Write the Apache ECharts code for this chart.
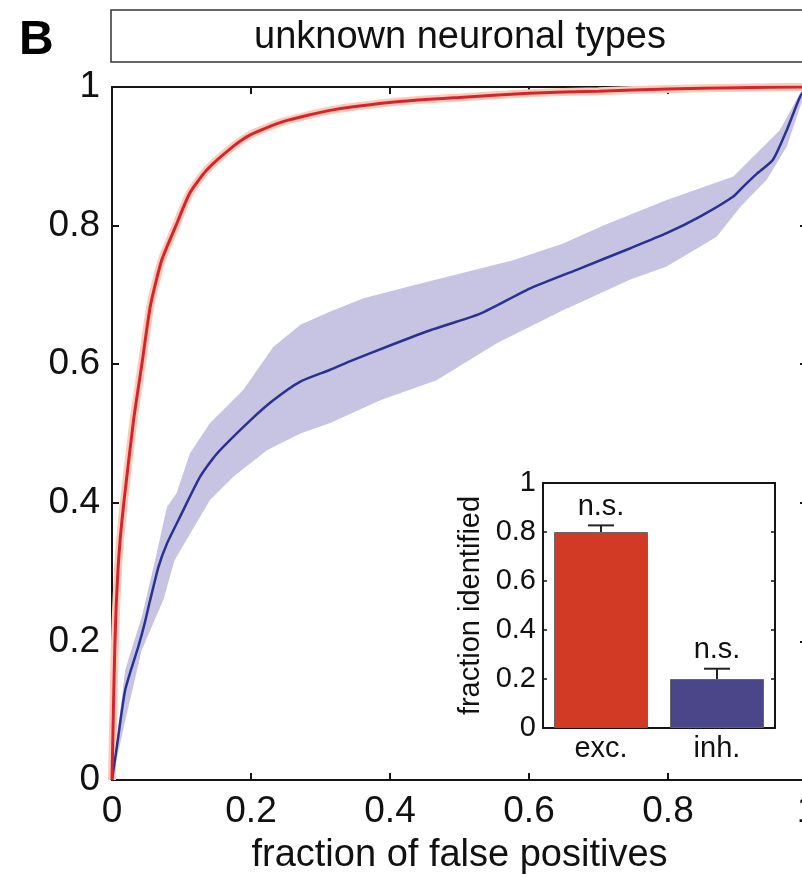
<!DOCTYPE html>
<html>
<head>
<meta charset="utf-8">
<script src="https://cdn.jsdelivr.net/npm/echarts@6/dist/echarts.min.js"></script>
<style>
  html, body { margin: 0; padding: 0; background: #fff; }
  #chart { width: 802px; height: 877px; }
</style>
</head>
<body>
<div id="chart"></div>
<script>
// ROC curves, [fraction of false positives, fraction identified]
const excCurve = [
  [0, 0], [0.002, 0.1], [0.004, 0.19], [0.006, 0.25], [0.009, 0.31], [0.012, 0.35],
  [0.017, 0.4], [0.031, 0.519], [0.043, 0.6], [0.055, 0.683], [0.0715, 0.75], [0.092, 0.8],
  [0.112, 0.847], [0.136, 0.88], [0.174, 0.914], [0.199, 0.931], [0.246, 0.95],
  [0.318, 0.967], [0.414, 0.979], [0.5, 0.985], [0.6, 0.991], [0.7, 0.994],
  [0.8, 0.997], [0.9, 0.999], [1, 1]
]
const inhCurve = [
  [0, 0], [0.007, 0.048], [0.019, 0.13], [0.038, 0.193], [0.047, 0.226], [0.055, 0.26],
  [0.067, 0.308], [0.079, 0.341], [0.098, 0.38], [0.127, 0.438], [0.151, 0.471],
  [0.199, 0.519], [0.232, 0.548], [0.271, 0.575], [0.314, 0.592], [0.342, 0.604],
  [0.4, 0.627], [0.458, 0.649], [0.53, 0.673], [0.601, 0.709], [0.673, 0.738],
  [0.745, 0.767], [0.798, 0.789], [0.846, 0.813], [0.894, 0.842], [0.908, 0.856],
  [0.928, 0.875], [0.951, 0.895], [0.971, 0.938], [0.99, 0.986], [1, 1]
]
const inhUpper = [
  [0, 0], [0.019, 0.159], [0.043, 0.236], [0.062, 0.317], [0.079, 0.394], [0.093, 0.414],
  [0.112, 0.471], [0.141, 0.515], [0.189, 0.563], [0.232, 0.625], [0.271, 0.657],
  [0.314, 0.676], [0.362, 0.695], [0.434, 0.714], [0.577, 0.75], [0.649, 0.774],
  [0.707, 0.8], [0.798, 0.837], [0.894, 0.871], [0.918, 0.895], [0.942, 0.919],
  [0.961, 0.938], [0.99, 0.991], [1, 1]
]
const inhLower = [
  [0, 0], [0.02, 0.09], [0.043, 0.188], [0.074, 0.26], [0.09, 0.317], [0.141, 0.404],
  [0.175, 0.438], [0.223, 0.476], [0.271, 0.5], [0.314, 0.515], [0.386, 0.548],
  [0.467, 0.577], [0.553, 0.63], [0.649, 0.678], [0.702, 0.702], [0.745, 0.722],
  [0.798, 0.741], [0.87, 0.784], [0.904, 0.827], [0.942, 0.866], [0.971, 0.914],
  [0.99, 0.971], [1, 1]
]

// inset bars
const barCategories = ['exc.', 'inh.']
const barValues = [0.8, 0.2]
const barErrTops = [0.827, 0.242]
const sigLabels = ['n.s.', 'n.s.']
const barColors = ['#d33a26', '#4b4589']

const FONT = 'Liberation Sans'
const AXIS_COLOR = '#151515'

const chart = echarts.init(document.getElementById('chart'))

function axisStyle(extra) {
  return Object.assign({
    axisLine: { show: true, onZero: false, lineStyle: { color: AXIS_COLOR, width: 2 } },
    axisTick: { show: true, inside: true, length: 7, lineStyle: { color: AXIS_COLOR, width: 2 } },
    splitLine: { show: false }
  }, extra)
}

function bandSeries(upper, lower, color) {
  return {
    type: 'custom',
    xAxisIndex: 0,
    yAxisIndex: 0,
    data: [[0, 0]],
    silent: true,
    clip: true,
    z: 1,
    renderItem(params, api) {
      const pts = upper.map(p => api.coord(p))
        .concat(lower.slice().reverse().map(p => api.coord(p)))
      return { type: 'polygon', shape: { points: pts }, style: { fill: color } }
    }
  }
}

const errData = barValues.map((v, i) => [i, v, barErrTops[i]])

chart.setOption({
  animation: false,
  backgroundColor: '#fff',
  title: [
    { text: 'B', left: 14, top: 12, textStyle: { fontFamily: FONT, fontSize: 48, fontWeight: 'bold', color: '#000' } },
    { text: 'unknown neuronal types', left: 455, top: 14, textAlign: 'center',
      textStyle: { fontFamily: FONT, fontSize: 38, fontWeight: 'normal', color: '#111' } }
  ],
  graphic: [
    { type: 'rect', shape: { x: 111, y: 10, width: 720, height: 52 },
      style: { fill: 'none', stroke: '#333', lineWidth: 1.5 } }
  ],
  grid: [
    { left: 112, top: 87, width: 695, height: 693, outerBoundsMode: 'none', containLabel: false },
    { left: 543, top: 483, width: 232, height: 245, outerBoundsMode: 'none', containLabel: false,
      show: true, backgroundColor: '#fff', borderWidth: 0, z: 5 }
  ],
  xAxis: [
    axisStyle({
      type: 'value', gridIndex: 0, min: 0, max: 1, interval: 0.2,
      name: 'fraction of false positives', nameLocation: 'middle', nameGap: 57,
      nameTextStyle: { fontFamily: FONT, fontSize: 38, color: '#111' },
      axisLabel: { fontFamily: FONT, fontSize: 37, color: '#111', margin: 13 }
    }),
    axisStyle({
      type: 'value', gridIndex: 0, min: 0, max: 1, interval: 0.2, position: 'top',
      axisLabel: { show: false }
    }),
    axisStyle({
      type: 'category', gridIndex: 1, data: barCategories, position: 'bottom',
      axisTick: { show: false },
      axisLabel: { fontFamily: FONT, fontSize: 29, color: '#111', margin: 6 },
      z: 6
    }),
    axisStyle({
      type: 'category', gridIndex: 1, data: barCategories, position: 'top',
      axisTick: { show: false }, axisLabel: { show: false }, z: 6
    })
  ],
  yAxis: [
    axisStyle({
      type: 'value', gridIndex: 0, min: 0, max: 1, interval: 0.2,
      axisLabel: { fontFamily: FONT, fontSize: 37, color: '#111', margin: 12 }
    }),
    axisStyle({
      type: 'value', gridIndex: 0, min: 0, max: 1, interval: 0.2, position: 'right',
      axisLabel: { show: false }
    }),
    axisStyle({
      type: 'value', gridIndex: 1, min: 0, max: 1, interval: 0.2,
      name: 'fraction identified', nameLocation: 'middle', nameGap: 58,
      nameTextStyle: { fontFamily: FONT, fontSize: 29, color: '#111' },
      axisTick: { show: true, inside: true, length: 4, lineStyle: { color: AXIS_COLOR, width: 1.5 } },
      axisLabel: { fontFamily: FONT, fontSize: 29, color: '#111', margin: 7 },
      z: 6
    }),
    axisStyle({
      type: 'value', gridIndex: 1, min: 0, max: 1, interval: 0.2, position: 'right',
      axisTick: { show: true, inside: true, length: 4, lineStyle: { color: AXIS_COLOR, width: 1.5 } },
      axisLabel: { show: false }, z: 6
    })
  ],
  series: [
    bandSeries(inhUpper, inhLower, '#c6c4e2'),
    {
      type: 'line', xAxisIndex: 0, yAxisIndex: 0, data: excCurve,
      showSymbol: false, smooth: 0.2, z: 2,
      lineStyle: { color: '#f8cbba', width: 8 }
    },
    {
      type: 'line', xAxisIndex: 0, yAxisIndex: 0, data: inhCurve,
      showSymbol: false, smooth: 0.2, z: 3,
      lineStyle: { color: '#2b3190', width: 2.5 }
    },
    {
      type: 'line', xAxisIndex: 0, yAxisIndex: 0, data: excCurve,
      showSymbol: false, smooth: 0.2, z: 4,
      lineStyle: { color: '#d9232b', width: 3 }
    },
    {
      type: 'bar', xAxisIndex: 2, yAxisIndex: 2, barWidth: '81%', z: 6,
      data: barValues.map((v, i) => ({
        value: v,
        itemStyle: { color: barColors[i], borderColor: '#666', borderWidth: 1 }
      }))
    },
    {
      type: 'custom', xAxisIndex: 2, yAxisIndex: 2, data: errData, z: 7,
      renderItem(params, api) {
        const i = params.dataIndex
        const base = api.coord([api.value(0), api.value(1)])
        const top = api.coord([api.value(0), api.value(2)])
        const st = { stroke: '#222', lineWidth: 2 }
        return {
          type: 'group',
          children: [
            { type: 'line', shape: { x1: base[0], y1: base[1], x2: top[0], y2: top[1] }, style: st },
            { type: 'line', shape: { x1: top[0] - 13, y1: top[1], x2: top[0] + 13, y2: top[1] }, style: st },
            { type: 'text', style: {
              text: sigLabels[i], x: top[0], y: top[1] - 4, textAlign: 'center', textVerticalAlign: 'bottom',
              font: '29px "Liberation Sans"', fill: '#111'
            } }
          ]
        }
      }
    }
  ]
})
</script>
</body>
</html>
